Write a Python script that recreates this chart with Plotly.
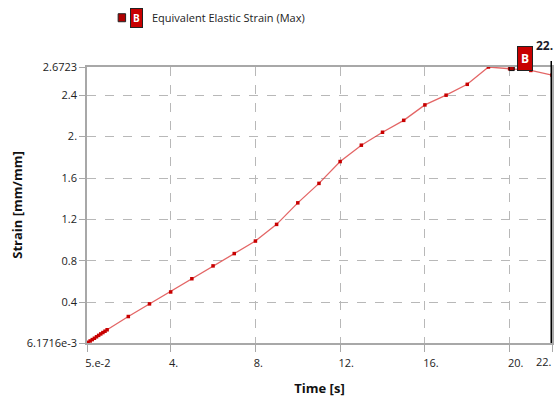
import plotly.graph_objects as go

# Equivalent elastic strain (max) history
time_s = [0.05, 0.1, 0.2, 0.3, 0.4, 0.5, 0.6, 0.7, 0.8, 0.9, 1.0,
          2.0, 3.0, 4.0, 5.0, 6.0, 7.0, 8.0, 9.0, 10.0,
          11.0, 12.0, 13.0, 14.0, 15.0, 16.0, 17.0, 18.0, 19.0,
          20.0, 21.0, 22.0]
strain = [0.0061716, 0.013, 0.026, 0.039, 0.052, 0.066, 0.080, 0.094, 0.107, 0.120, 0.134,
          0.262, 0.384, 0.499, 0.627, 0.751, 0.870, 0.991, 1.152, 1.360,
          1.548, 1.759, 1.917, 2.042, 2.157, 2.306, 2.400, 2.505, 2.6723,
          2.655, 2.639, 2.594]

x_ticks = [0.05, 4, 8, 12, 16, 20, 22]
x_labels = ["5.e-2", "4.", "8.", "12.", "16.", "20.", ""]
end_label = "22."
y_ticks = [0.0061716, 0.4, 0.8, 1.2, 1.6, 2.0, 2.4, 2.6723]
y_labels = ["6.1716e-3", "0.4", "0.8", "1.2", "1.6", "2.", "2.4", "2.6723"]

probe_time = 20.1
probe_strain = 2.662
cursor_time = 22.0

FONT = "Open Sans"
fig = go.Figure()

fig.add_trace(go.Scatter(
    x=time_s, y=strain, mode="lines",
    line=dict(color="rgba(218,50,50,0.75)", width=1.3),
    hoverinfo="skip", showlegend=False, cliponaxis=False))
fig.add_trace(go.Scatter(
    x=time_s, y=strain, mode="markers",
    marker=dict(symbol="square", size=3.5, color="#c80000"),
    showlegend=False, cliponaxis=False))

# probe marker "B"
fig.add_trace(go.Scatter(
    x=[probe_time], y=[probe_strain], mode="markers",
    marker=dict(symbol="square", size=5, color="#b00000",
                line=dict(color="#111111", width=1)),
    showlegend=False, cliponaxis=False))

# time cursor
fig.add_shape(type="line", xref="x", yref="paper",
              x0=cursor_time, x1=cursor_time, y0=0, y1=1.022,
              line=dict(color="black", width=3))
fig.add_annotation(x=cursor_time, y=1.0, xref="x", yref="paper",
                   text="<b>22.</b>", showarrow=False,
                   xanchor="right", yanchor="bottom", yshift=11, xshift=3,
                   font=dict(family=FONT, size=12, color="#1a1a2a"))

fig.add_annotation(x=probe_time, y=probe_strain, xref="x", yref="y",
                   text="<b>B</b>", showarrow=False,
                   xanchor="left", yanchor="bottom", xshift=5, yshift=-3,
                   bgcolor="#c80000", bordercolor="#222222", borderwidth=1,
                   borderpad=3,
                   font=dict(family=FONT, size=12, color="white"))

# end tick label at the cursor
fig.add_annotation(x=cursor_time, y=0, xref="x", yref="paper",
                   text=end_label, showarrow=False,
                   xanchor="right", yanchor="top", yshift=-9, xshift=2,
                   font=dict(family=FONT, size=11, color="#222222"))

# legend row
fig.add_shape(type="rect", xref="paper", yref="paper",
              x0=0.067, x1=0.083, y0=1.164, y1=1.193,
              line=dict(color="#222222", width=1), fillcolor="#b00000")
fig.add_annotation(x=0.092, y=1.178, xref="paper", yref="paper",
                   text="<b>B</b>", showarrow=False,
                   xanchor="left", yanchor="middle",
                   bgcolor="#c80000", bordercolor="#222222", borderwidth=1,
                   borderpad=2,
                   font=dict(family=FONT, size=10, color="white"))
fig.add_annotation(x=0.136, y=1.178, xref="paper", yref="paper",
                   text="Equivalent Elastic Strain (Max)", showarrow=False,
                   xanchor="left", yanchor="middle",
                   font=dict(family=FONT, size=11, color="#222222"))

axis_common = dict(
    showline=True, linecolor="#a8a8a8", linewidth=1.5, mirror=True,
    showgrid=True, gridcolor="#b8b8b8", griddash="dash", gridwidth=1,
    ticks="outside", tickcolor="#a8a8a8",
    zeroline=False,
    tickfont=dict(family=FONT, size=11, color="#222222"),
)

fig.update_layout(
    width=556, height=399,
    margin=dict(l=87, r=2, t=67, b=56),
    paper_bgcolor="white", plot_bgcolor="white",
    showlegend=False,
    xaxis=dict(range=[0.05, 22], tickvals=x_ticks, ticktext=x_labels,
               ticklen=7, ticklabelposition="outside right",
               ticklabelstandoff=9, ticklabelshift=-3,
               title=dict(text="<b>Time [s]</b>", standoff=15,
                          font=dict(family=FONT, size=13, color="#111111")),
               **axis_common),
    yaxis=dict(range=[0.0061716, 2.6723], tickvals=y_ticks, ticktext=y_labels,
               ticklen=6,
               title=dict(text="<b>Strain [mm/mm]</b>", standoff=1,
                          font=dict(family=FONT, size=13, color="#111111")),
               **axis_common),
)

fig.write_html("out.html")
